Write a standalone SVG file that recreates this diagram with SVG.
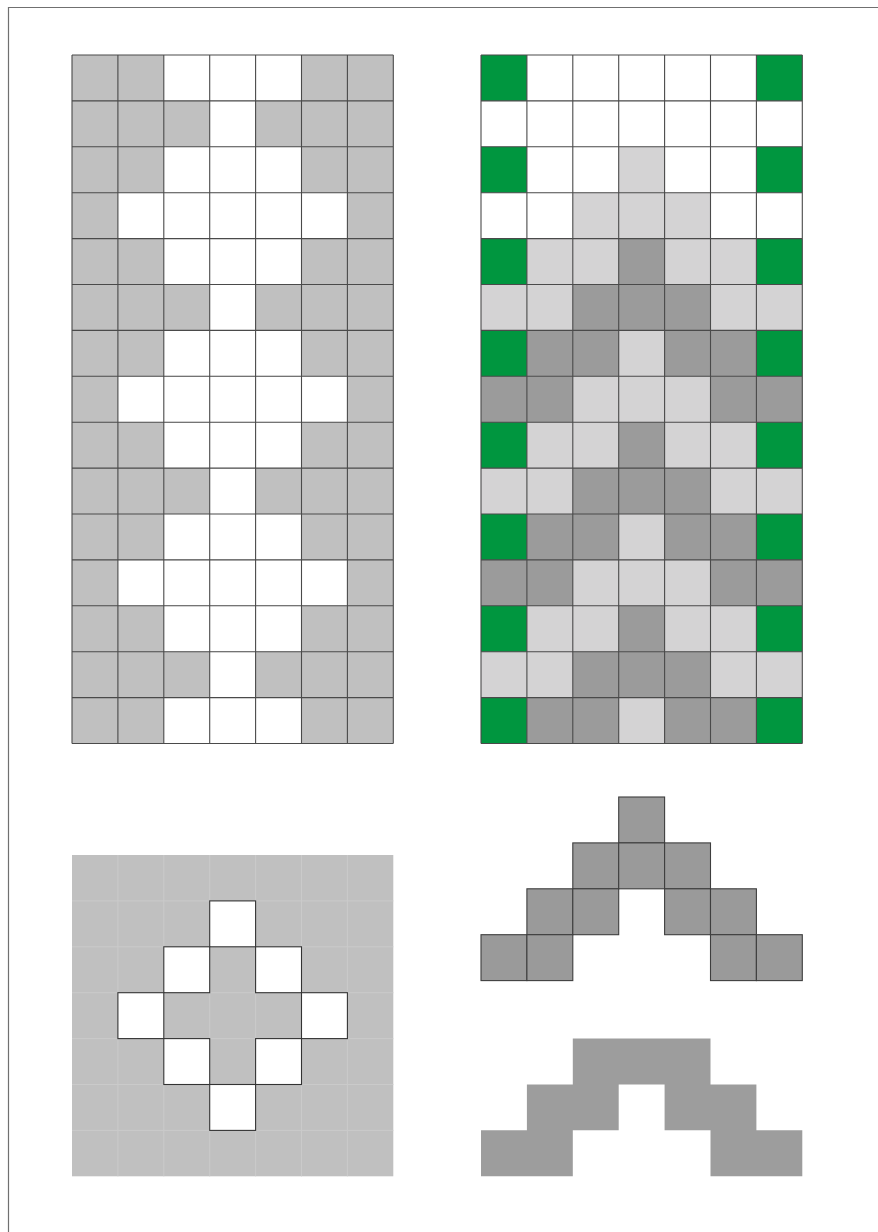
<svg xmlns="http://www.w3.org/2000/svg" xmlns:xlink="http://www.w3.org/1999/xlink" width="878" height="1232" viewBox="0 0 878 1232">
  <style>
    .g1 { fill: #c0c0c0; }
    .wh { fill: #ffffff; }
    .lt { fill: #d4d3d4; }
    .dk { fill: #9b9b9b; }
    .gr { fill: #00963f; }
    .lines { fill: none; stroke: #4a4a4a; stroke-width: 1.1; }
    .faint { fill: none; stroke: #cacaca; stroke-width: 1; }
    .bw { fill: #ffffff; stroke: #333333; stroke-width: 1.1; }
    .ch { fill: #9a9a9a; stroke: #3e3e3e; stroke-width: 1.1; }
    .ch2 { fill: #9d9d9d; }
  </style>
  <defs>
    <path id="gridlines" d="M0,0V688.5M45.9,0V688.5M91.8,0V688.5M137.7,0V688.5M183.6,0V688.5M229.5,0V688.5M275.4,0V688.5M321.3,0V688.5M0,0H321.3M0,45.9H321.3M0,91.8H321.3M0,137.7H321.3M0,183.6H321.3M0,229.5H321.3M0,275.4H321.3M0,321.3H321.3M0,367.2H321.3M0,413.1H321.3M0,459H321.3M0,504.9H321.3M0,550.8H321.3M0,596.7H321.3M0,642.6H321.3M0,688.5H321.3"/>
    <rect id="cell" width="45.9" height="45.9"/>
  </defs>

  <g id="frame">
    <path d="M8.5,1232V7.5H878" fill="none" stroke="#707070" stroke-width="1.2"/>
  </g>

  <g id="left-grid" transform="translate(72,55)">
    <rect class="g1" width="321.3" height="688.5"/>
    <g class="wh">
      <rect x="91.8" y="0" width="137.7" height="45.9"/>
      <rect x="137.7" y="45.9" width="45.9" height="45.9"/>
      <rect x="91.8" y="91.8" width="137.7" height="45.9"/>
      <rect x="45.9" y="137.7" width="229.5" height="45.9"/>
      <rect x="91.8" y="183.6" width="137.7" height="45.9"/>
      <rect x="137.7" y="229.5" width="45.9" height="45.9"/>
      <rect x="91.8" y="275.4" width="137.7" height="45.9"/>
      <rect x="45.9" y="321.3" width="229.5" height="45.9"/>
      <rect x="91.8" y="367.2" width="137.7" height="45.9"/>
      <rect x="137.7" y="413.1" width="45.9" height="45.9"/>
      <rect x="91.8" y="459" width="137.7" height="45.9"/>
      <rect x="45.9" y="504.9" width="229.5" height="45.9"/>
      <rect x="91.8" y="550.8" width="137.7" height="45.9"/>
      <rect x="137.7" y="596.7" width="45.9" height="45.9"/>
      <rect x="91.8" y="642.6" width="137.7" height="45.9"/>
    </g>
    <use xlink:href="#gridlines" class="lines"/>
  </g>

  <g id="right-grid" transform="translate(481,55)">
    <rect class="lt" width="321.3" height="688.5"/>
    <rect class="wh" width="321.3" height="183.6"/>
    <g class="lt">
      <rect x="137.7" y="91.8" width="45.9" height="45.9"/>
      <rect x="91.8" y="137.7" width="137.7" height="45.9"/>
    </g>
    <g class="dk">
      <rect x="137.7" y="183.6" width="45.9" height="45.9"/>
      <rect x="91.8" y="229.5" width="137.7" height="45.9"/>
      <rect x="45.9" y="275.4" width="91.8" height="45.9"/>
      <rect x="183.6" y="275.4" width="91.8" height="45.9"/>
      <rect x="0" y="321.3" width="91.8" height="45.9"/>
      <rect x="229.5" y="321.3" width="91.8" height="45.9"/>
      <rect x="137.7" y="367.2" width="45.9" height="45.9"/>
      <rect x="91.8" y="413.1" width="137.7" height="45.9"/>
      <rect x="45.9" y="459" width="91.8" height="45.9"/>
      <rect x="183.6" y="459" width="91.8" height="45.9"/>
      <rect x="0" y="504.9" width="91.8" height="45.9"/>
      <rect x="229.5" y="504.9" width="91.8" height="45.9"/>
      <rect x="137.7" y="550.8" width="45.9" height="45.9"/>
      <rect x="91.8" y="596.7" width="137.7" height="45.9"/>
      <rect x="45.9" y="642.6" width="91.8" height="45.9"/>
      <rect x="183.6" y="642.6" width="91.8" height="45.9"/>
    </g>
    <g class="gr">
      <rect x="0" y="0" width="45.9" height="45.9"/>
      <rect x="275.4" y="0" width="45.9" height="45.9"/>
      <rect x="0" y="91.8" width="45.9" height="45.9"/>
      <rect x="275.4" y="91.8" width="45.9" height="45.9"/>
      <rect x="0" y="183.6" width="45.9" height="45.9"/>
      <rect x="275.4" y="183.6" width="45.9" height="45.9"/>
      <rect x="0" y="275.4" width="45.9" height="45.9"/>
      <rect x="275.4" y="275.4" width="45.9" height="45.9"/>
      <rect x="0" y="367.2" width="45.9" height="45.9"/>
      <rect x="275.4" y="367.2" width="45.9" height="45.9"/>
      <rect x="0" y="459" width="45.9" height="45.9"/>
      <rect x="275.4" y="459" width="45.9" height="45.9"/>
      <rect x="0" y="550.8" width="45.9" height="45.9"/>
      <rect x="275.4" y="550.8" width="45.9" height="45.9"/>
      <rect x="0" y="642.6" width="45.9" height="45.9"/>
      <rect x="275.4" y="642.6" width="45.9" height="45.9"/>
    </g>
    <use xlink:href="#gridlines" class="lines"/>
  </g>

  <g id="diamond" transform="translate(72,855)">
    <rect class="g1" width="321.3" height="321.3"/>
    <path class="faint" d="M45.9,0V321.3M91.8,0V321.3M137.7,0V321.3M183.6,0V321.3M229.5,0V321.3M275.4,0V321.3M0,45.9H321.3M0,91.8H321.3M0,137.7H321.3M0,183.6H321.3M0,229.5H321.3M0,275.4H321.3"/>
    <g class="bw">
      <rect x="137.7" y="45.9" width="45.9" height="45.9"/>
      <rect x="91.8" y="91.8" width="45.9" height="45.9"/>
      <rect x="183.6" y="91.8" width="45.9" height="45.9"/>
      <rect x="45.9" y="137.7" width="45.9" height="45.9"/>
      <rect x="229.5" y="137.7" width="45.9" height="45.9"/>
      <rect x="91.8" y="183.6" width="45.9" height="45.9"/>
      <rect x="183.6" y="183.6" width="45.9" height="45.9"/>
      <rect x="137.7" y="229.5" width="45.9" height="45.9"/>
    </g>
  </g>

  <g id="chevron-outlined" transform="translate(481,797)">
    <g class="ch">
      <rect x="137.7" y="0" width="45.9" height="45.9"/>
      <rect x="91.8" y="45.9" width="45.9" height="45.9"/>
      <rect x="137.7" y="45.9" width="45.9" height="45.9"/>
      <rect x="183.6" y="45.9" width="45.9" height="45.9"/>
      <rect x="45.9" y="91.8" width="45.9" height="45.9"/>
      <rect x="91.8" y="91.8" width="45.9" height="45.9"/>
      <rect x="183.6" y="91.8" width="45.9" height="45.9"/>
      <rect x="229.5" y="91.8" width="45.9" height="45.9"/>
      <rect x="0" y="137.7" width="45.9" height="45.9"/>
      <rect x="45.9" y="137.7" width="45.9" height="45.9"/>
      <rect x="229.5" y="137.7" width="45.9" height="45.9"/>
      <rect x="275.4" y="137.7" width="45.9" height="45.9"/>
    </g>
  </g>

  <g id="chevron-solid" transform="translate(481,1038.5)">
    <path class="ch2" d="M91.8,0H229.5V45.9H275.4V91.8H321.3V137.7H229.5V91.8H183.6V45.9H137.7V91.8H91.8V137.7H0V91.8H45.9V45.9H91.8Z"/>
  </g>

  <g id="connectors"/>
</svg>
